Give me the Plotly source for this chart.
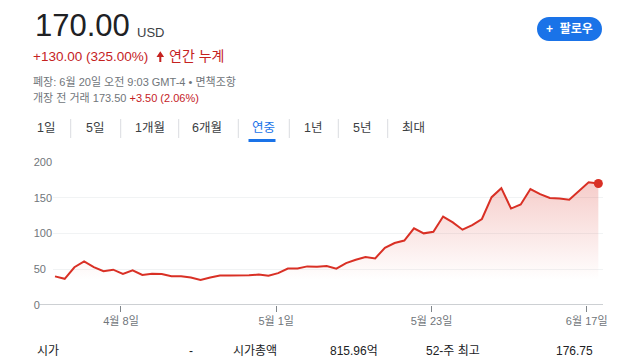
import plotly.graph_objects as go

# ---------------- data ----------------
prices = [40, 36.6, 52.8, 61, 53, 47.3, 49.4, 43.4, 48.5, 42,
          43.6, 43.4, 40.3, 40.3, 38.5, 35, 38.5, 41.2, 41.2, 41.2,
          41.6, 42.6, 41, 44.5, 51, 51, 54, 53.5, 54.6, 50.8,
          58.5, 63.2, 67.1, 65.2, 80.1, 86.7, 90.2, 107.2, 100.2, 102.3,
          123.7, 115.5, 105.3, 111.8, 120.3, 150.8, 163.4, 134.9, 140.5, 162.2,
          155, 149.6, 148.9, 147.1, 158.9, 171.6, 170]
x_idx = list(range(len(prices)))
x_tick_pos = [6.8, 22.8, 38.8, 54.8]
x_tick_labels = ['4월 8일', '5월 1일', '5월 23일', '6월 17일']
y_tick_vals = [0, 50, 100, 150, 200]
y_tick_labels = ['0\u2007\u2007', '50\u2007', '100', '150', '200']
tabs = ['1일', '5일', '1개월', '6개월', '연중', '1년', '5년', '최대']
tab_centers = [46, 95, 150, 207, 263, 313, 362, 413]
tab_seps = [70.7, 120.7, 178.7, 238.3, 289.3, 338.3, 387.7]
active_tab = '연중'

# ---------------- layout geometry ----------------
W, H = 640, 360
L, R, T, B = 53, 37, 162, 55
PW, PH = W - L - R, H - T - B

def px(xp):
    return (xp - L) / PW

def py(yp):
    return (H - B - yp) / PH

FONT = 'Arial, "Liberation Sans", "Noto Sans CJK KR", sans-serif'
RED_LINE = '#d93025'
RED_TXT = '#c5221f'
GREY = '#70757a'
DARK = '#202124'
BLUE = '#1a73e8'

fig = go.Figure()
fig.add_trace(go.Scatter(
    x=x_idx, y=prices, mode='lines',
    line=dict(color=RED_LINE, width=2),
    fill='tozeroy',
    fillgradient=dict(type='vertical',
                      colorscale=[[0, 'rgba(217,48,37,0)'], [1, 'rgba(217,48,37,0.24)']],
                      start=35, stop=170),
    hoverinfo='skip', showlegend=False))
fig.add_trace(go.Scatter(
    x=[x_idx[-1]], y=[prices[-1]], mode='markers',
    marker=dict(color=RED_LINE, size=9),
    hoverinfo='skip', showlegend=False))

ann = []
def text(xp, yp, s, size, color, anchor='left', bold=False, family=FONT):
    if bold:
        s = '<b>' + s + '</b>'
    ann.append(dict(x=px(xp), y=py(yp), xref='paper', yref='paper', text=s,
                    showarrow=False, xanchor=anchor, yanchor='middle',
                    font=dict(size=size, color=color, family=family)))

# header
text(33, 25, '170.00', 31, DARK)
text(135, 32, 'USD', 13, '#3c4043')
text(31, 56, '+130.00 (325.00%)', 13.5, RED_TXT)
text(167, 56, '연간 누계', 14, RED_TXT)
text(31, 81, '폐장: 6월 20일 오전 9:03 GMT-4 • 면책조항', 11, GREY)
text(31, 98, '개장 전 거래 173.50 <span style="color:%s">+3.50 (2.06%%)</span>' % RED_TXT, 11, GREY)
text(569.5, 29, '+  팔로우', 12, 'white', anchor='center', bold=True)

# tabs
for t, c in zip(tabs, tab_centers):
    text(c, 128, t, 12.5, BLUE if t == active_tab else '#3c4043', anchor='center')

# key stats row
text(35, 351, '시가', 12, DARK)
text(191, 351, '-', 12, DARK, anchor='center')
text(230.6, 351, '시가총액', 12, DARK)
text(380, 351, '815.96억', 12, DARK, anchor='right')
text(424, 351, '52-주 최고', 12, DARK)
text(595, 351, '176.75', 12, DARK, anchor='right')

shapes = []
# follow button pill
x0, x1, y0, y1, r = 537, 602, 17, 41, 12
k = 0.5523 * r
pts = [('M', x0 + r, y0), ('L', x1 - r, y0),
       ('C', x1 - r + k, y0, x1, y0 + r - k, x1, y0 + r),
       ('C', x1, y0 + r + k, x1 - r + k, y1, x1 - r, y1),
       ('L', x0 + r, y1),
       ('C', x0 + r - k, y1, x0, y0 + r + k, x0, y0 + r),
       ('C', x0, y0 + r - k, x0 + r - k, y0, x0 + r, y0)]
path = ''
for p in pts:
    cmd, vals = p[0], p[1:]
    coords = []
    for i in range(0, len(vals), 2):
        coords.append('%.5f,%.5f' % (px(vals[i]), py(vals[i + 1])))
    path += cmd + ' '.join(coords) + ' '
path += 'Z'
shapes.append(dict(type='path', xref='paper', yref='paper', path=path,
                   fillcolor=BLUE, line=dict(width=0)))
# up arrow
arrow = 'M%.5f,%.5f L%.5f,%.5f L%.5f,%.5f L%.5f,%.5f L%.5f,%.5f L%.5f,%.5f L%.5f,%.5f Z' % (
    px(156.5), py(57), px(160.3), py(51.2), px(164.1), py(57),
    px(161.3), py(57), px(161.3), py(62), px(159.3), py(62), px(159.3), py(57))
shapes.append(dict(type='path', xref='paper', yref='paper', path=arrow,
                   fillcolor=RED_TXT, line=dict(width=0)))
# tab separators
for s in tab_seps:
    shapes.append(dict(type='line', xref='paper', yref='paper',
                       x0=px(s), x1=px(s), y0=py(119), y1=py(138),
                       line=dict(color='#dadce0', width=1)))
# active tab underline
shapes.append(dict(type='line', xref='paper', yref='paper',
                   x0=px(248.5), x1=px(275.5), y0=py(140.5), y1=py(140.5),
                   line=dict(color=BLUE, width=3)))
# baseline
shapes.append(dict(type='line', xref='paper', yref='y',
                   x0=px(39), x1=px(603), y0=0, y1=0,
                   line=dict(color='#9aa0a6', width=1), layer='above'))

fig.update_layout(
    width=W, height=H,
    margin=dict(l=L, r=R, t=T, b=B, pad=0),
    paper_bgcolor='white', plot_bgcolor='white',
    font=dict(family=FONT, color=GREY),
    annotations=ann, shapes=shapes, showlegend=False,
    xaxis=dict(range=[-0.206, 56.48], tickmode='array', tickvals=x_tick_pos,
               ticktext=x_tick_labels, showgrid=False, zeroline=False, showline=False,
               ticks='outside', ticklen=6, tickcolor='#80868b', tickwidth=1,
               tickfont=dict(size=11, color=GREY, family=FONT), automargin=False,
               fixedrange=True),
    yaxis=dict(range=[0, 200], tickmode='array', tickvals=y_tick_vals,
               ticktext=y_tick_labels, showgrid=True, gridcolor='#f1f3f4', gridwidth=1,
               zeroline=False, showline=False, ticks='',
               tickfont=dict(size=11, color=GREY, family=FONT), automargin=False,
               fixedrange=True),
)

fig.write_html('out.html', config={'displayModeBar': False},
               post_script="document.body.style.margin='0';document.body.style.overflow='hidden';")
